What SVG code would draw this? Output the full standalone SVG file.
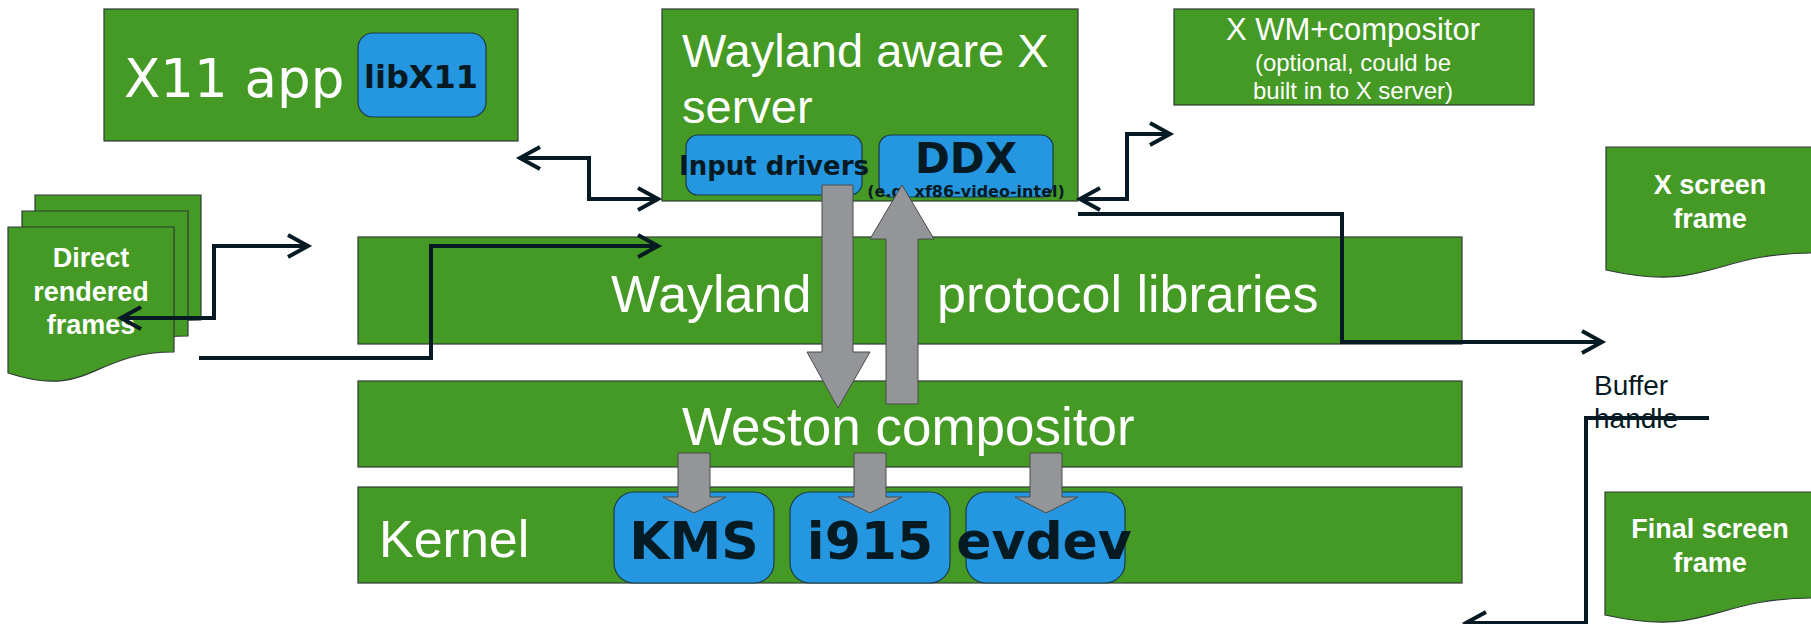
<svg xmlns="http://www.w3.org/2000/svg" width="1811" height="624" viewBox="0 0 1811 624">
<defs>
<style>
.box{fill:#449a24;stroke:#2d3b36;stroke-width:1.2}
.blue{fill:#2497e0;stroke:#1c3a4a;stroke-width:1.2}
.gray{fill:#939598;stroke:#4a4a4a;stroke-width:1}
.conn{fill:none;stroke:#061a24;stroke-width:4}
.w{fill:#ffffff;font-family:"Liberation Sans",Arial,sans-serif}
.wb{fill:#ffffff;font-family:"Liberation Sans",Arial,sans-serif;font-weight:bold;font-size:27px;text-anchor:middle}
.dj{fill:#061a24;font-family:"DejaVu Sans",sans-serif;font-weight:bold;text-anchor:middle}
</style>
<marker id="ah" markerUnits="userSpaceOnUse" markerWidth="30" markerHeight="30" viewBox="-24 -15 30 30" refX="0" refY="0" orient="auto-start-reverse">
<path d="M-20,-11 L0,0 L-20,11" fill="none" stroke="#061a24" stroke-width="4"/>
</marker>
</defs>
<rect width="1811" height="624" fill="#ffffff"/>

<g id="x11app">
<rect class="box" x="104" y="9" width="414" height="132"/>
<text class="w" x="124" y="97" font-family="DejaVu Sans" style="font-family:'DejaVu Sans',sans-serif" font-size="53">X11 app</text>
<rect class="blue" x="358" y="33" width="128" height="84" rx="15"/>
<text class="dj" x="421" y="88" font-size="32">libX11</text>
</g>

<g id="xserver">
<rect class="box" x="662" y="9" width="416" height="192"/>
<text class="w" x="682" y="67" font-size="47">Wayland aware X</text>
<text class="w" x="682" y="123" font-size="47">server</text>
<rect class="blue" x="686" y="135" width="176" height="60" rx="12"/>
<text class="dj" x="774" y="175" font-size="26">Input drivers</text>
<rect class="blue" x="879" y="135" width="174" height="62" rx="12"/>
<text class="dj" x="966" y="173" font-size="42">DDX</text>
<text class="dj" x="966" y="197" font-size="16">(e.g. xf86-video-intel)</text>
</g>

<g id="xwm">
<rect class="box" x="1174" y="9" width="360" height="96"/>
<text class="w" x="1353" y="40" font-size="31" text-anchor="middle">X WM+compositor</text>
<text class="w" x="1353" y="71" font-size="24" text-anchor="middle">(optional, could be</text>
<text class="w" x="1353" y="99" font-size="24" text-anchor="middle">built in to X server)</text>
</g>

<g id="direct">
<path class="box" d="M35,195 H201 V320 C118,320 118,368 35,340 Z"/>
<path class="box" d="M22,211 H188 V336 C105,336 105,384 22,356 Z"/>
<path class="box" d="M8,227 H174 V352 C91,352 91,400 8,373 Z"/>
<text class="wb" x="91" y="267">Direct</text>
<text class="wb" x="91" y="301">rendered</text>
<text class="wb" x="91" y="334">frames</text>
</g>

<g id="wayland">
<rect class="box" x="358" y="237" width="1104" height="107"/>
<text class="w" y="312" font-size="52"><tspan x="611">Wayland</tspan><tspan x="937">protocol libraries</tspan></text>
</g>

<g id="weston">
<rect class="box" x="358" y="381" width="1104" height="86"/>
<text class="w" x="682" y="445" font-size="53">Weston compositor</text>
</g>

<g id="kernel">
<rect class="box" x="358" y="487" width="1104" height="96"/>
<text class="w" x="379" y="557" font-size="52">Kernel</text>
<rect class="blue" x="614" y="492" width="160" height="91" rx="20"/>
<text class="dj" x="694" y="559" font-size="52">KMS</text>
<rect class="blue" x="790" y="492" width="160" height="91" rx="20"/>
<text class="dj" x="870" y="559" font-size="52">i915</text>
<rect class="blue" x="966" y="492" width="159" height="91" rx="20"/>
<text class="dj" x="1044" y="559" font-size="52">evdev</text>
</g>

<g id="xscreen">
<path class="box" d="M1606,147 H1814 V253 C1710,253 1710,293 1606,270 Z"/>
<text class="wb" x="1710" y="194">X screen</text>
<text class="wb" x="1710" y="228">frame</text>
</g>

<g id="finalscreen">
<path class="box" d="M1605,492 H1814 V598 C1710,598 1710,638 1605,615 Z"/>
<text class="wb" x="1710" y="538">Final screen</text>
<text class="wb" x="1710" y="572">frame</text>
</g>

<g id="buffer">
<text x="1594" y="395" font-family="Liberation Sans,Arial,sans-serif" font-size="28" fill="#061a24">Buffer</text>
<text x="1594" y="428" font-family="Liberation Sans,Arial,sans-serif" font-size="28" fill="#061a24">handle</text>
</g>

<g id="bigarrows">
<polygon class="gray" points="822,185 853,185 853,352 870,352 838,408 807,352 822,352"/>
<polygon class="gray" points="902,185 934,239 918,239 918,404 886,404 886,239 870,239"/>
<polygon class="gray" points="678,453 710,453 710,497 726,497 694,513 663,497 678,497"/>
<polygon class="gray" points="854,453 886,453 886,497 902,497 870,513 838,497 854,497"/>
<polygon class="gray" points="1030,453 1062,453 1062,497 1078,497 1046,513 1015,497 1030,497"/>
</g>

<g id="connectors">
<path class="conn" d="M199,358 H431 V246 H658" marker-end="url(#ah)"/>
<path class="conn" d="M121,318 H214 V246 H308" marker-start="url(#ah)" marker-end="url(#ah)"/>
<path class="conn" d="M520,158 H589 V199 H658" marker-start="url(#ah)" marker-end="url(#ah)"/>
<path class="conn" d="M1080,199 H1127 V134 H1170" marker-start="url(#ah)" marker-end="url(#ah)"/>
<path class="conn" d="M1078,214 H1342 V342 H1602" marker-end="url(#ah)"/>
<path class="conn" d="M1709,418 H1586 V623 H1466" marker-end="url(#ah)"/>
</g>
</svg>
